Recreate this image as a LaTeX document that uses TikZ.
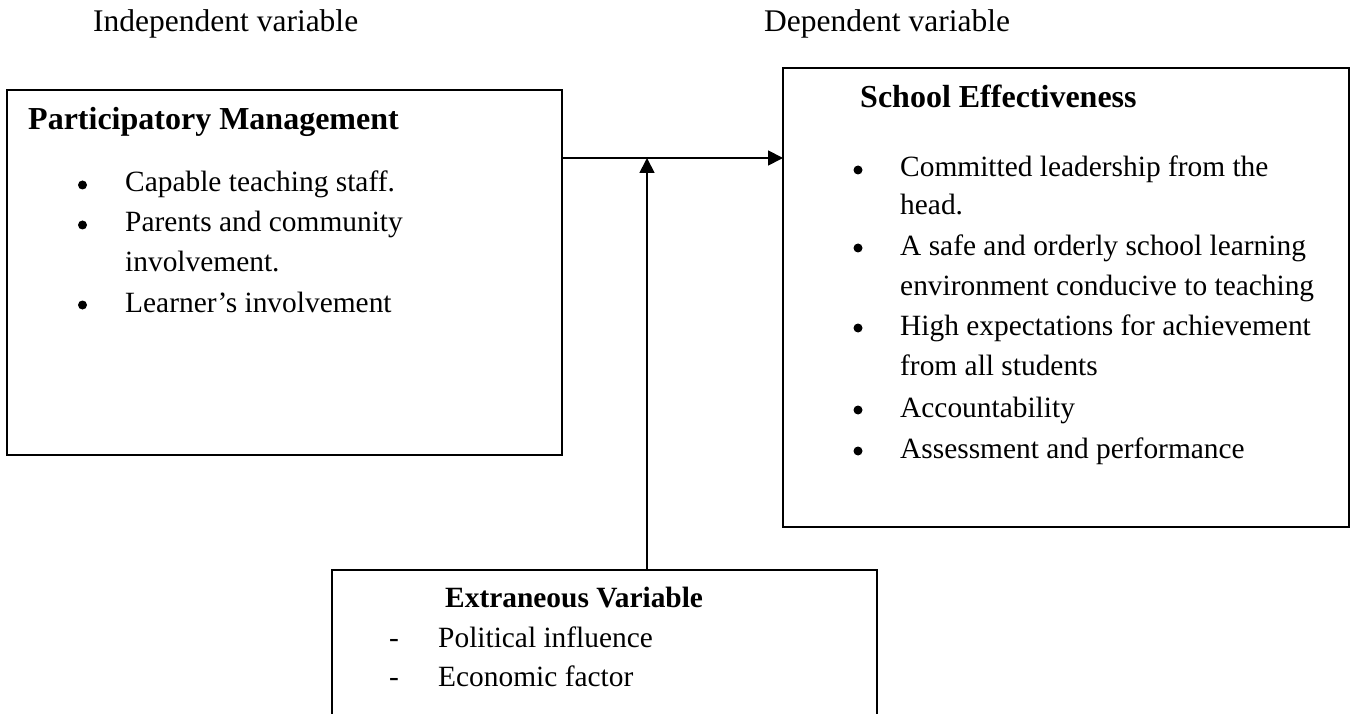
\documentclass[tikz,border=0pt]{standalone}
\usepackage{fontspec}
\setmainfont{Liberation Serif}
\usetikzlibrary{arrows.meta}
\begin{document}
\begin{tikzpicture}[x=1pt,y=-1pt,
  box/.style={draw=black,line width=1.8pt,rectangle,inner sep=0pt,outer sep=0pt,anchor=north west},
  txt/.style={anchor=base west,inner sep=0pt,font=\fontsize{29.4}{40}\selectfont},
  ttl/.style={anchor=base west,inner sep=0pt,font=\fontsize{32}{40}\selectfont\bfseries},
  lbl/.style={anchor=base west,inner sep=0pt,font=\fontsize{31.5}{40}\selectfont},
  bul/.style={circle,fill=black,inner sep=0pt,minimum size=9pt},
  dsh/.style={anchor=base,inner sep=0pt,font=\fontsize{29.4}{40}\selectfont},
  arr/.style={line width=1.8pt,-{Triangle[length=15pt,width=15pt]}}]
\clip (0,0) rectangle (1355,714);
\useasboundingbox (0,0) rectangle (1355,714);
% top labels
\node[lbl] (iv) at (93,32) {Independent variable};
\node[lbl] (dv) at (764,32) {Dependent variable};
% boxes
\node[box,minimum width=555pt,minimum height=365pt] (pm) at (7,90) {};
\node[box,minimum width=566pt,minimum height=459pt] (se) at (783,68) {};
\node[box,minimum width=545pt,minimum height=200pt] (ev) at (332,570) {};
% left box text
\node[ttl] (pmt) at (28,130) {Participatory Management};
\node[bul] (pb1) at (82.5,185) {};
\node[txt] (p1) at (125,192) {Capable teaching staff.};
\node[bul] (pb2) at (82.5,225) {};
\node[txt] (p2) at (125,232) {Parents and community};
\node[txt] (p2b) at (125,272) {involvement.};
\node[bul] (pb3) at (82.5,305) {};
\node[txt] (p3) at (125,312) {Learner’s involvement};
% right box text
\node[ttl] (set) at (860,108) {School Effectiveness};
\node[bul] (sb1) at (858,170) {};
\node[txt] (s1) at (900,177) {Committed leadership from the};
\node[txt] (s1b) at (900,215) {head.};
\node[bul] (sb2) at (858,248) {};
\node[txt] (s2) at (900,255) {A safe and orderly school learning};
\node[txt] (s2b) at (900,295) {environment conducive to teaching};
\node[bul] (sb3) at (858,328) {};
\node[txt] (s3) at (900,335) {High expectations for achievement};
\node[txt] (s3b) at (900,375) {from all students};
\node[bul] (sb4) at (858,410) {};
\node[txt] (s4) at (900,417) {Accountability};
\node[bul] (sb5) at (858,451) {};
\node[txt] (s5) at (900,458) {Assessment and performance};
% bottom box text
\node[anchor=base west,inner sep=0pt,font=\fontsize{29.4}{40}\selectfont\bfseries] (evt) at (445,607) {Extraneous Variable};
\node[dsh] (eb1) at (394,647) {-};
\node[txt] (e1) at (438,647) {Political influence};
\node[dsh] (eb2) at (394,686) {-};
\node[txt] (e2) at (438,686) {Economic factor};
% connectors
\coordinate (hy) at (0,158);
\coordinate (j) at (647,158);
\draw[arr] (pm.east |- hy) -- (se.west |- hy);
\draw[arr] (ev.north -| j) -- (j);
\end{tikzpicture}
\end{document}
